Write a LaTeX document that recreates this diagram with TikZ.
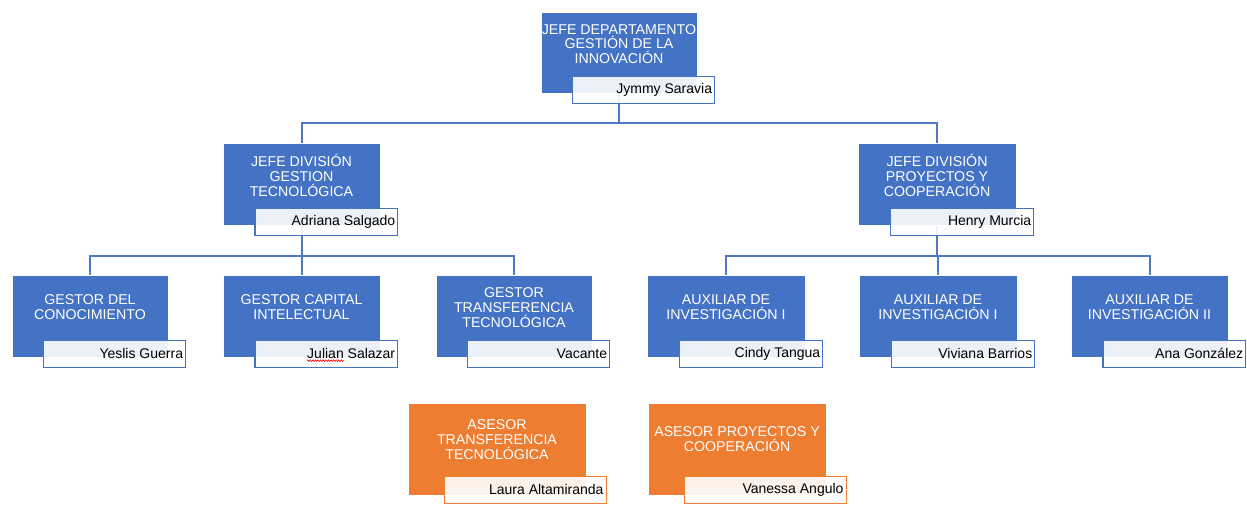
\documentclass[tikz,border=0pt]{standalone}
\usepackage{fontspec}
\setmainfont{Liberation Sans}
\usetikzlibrary{decorations.pathmorphing}

\definecolor{accblue}{HTML}{4472C4}
\definecolor{accorange}{HTML}{ED7D31}
\definecolor{linkblue}{HTML}{5079C4}

\pgfdeclarelayer{background}
\pgfsetlayers{background,main}

\tikzset{
  rolebox/.style={rectangle, draw=white, line width=0.6pt, anchor=north west, inner sep=0pt},
  namebox/.style={rectangle, fill=white, fill opacity=0.9, text opacity=1, line width=1.1pt,
                  anchor=north west, inner sep=0pt, minimum height=27pt},
  roletext/.style={text=white, align=center, inner sep=0pt,
                   font=\fontsize{14.2}{14.8}\selectfont},
  nametext/.style={anchor=east, inner sep=0pt, text=black,
                   font=\fontsize{14}{15}\selectfont},
  link/.style={draw=linkblue, line width=1.8pt},
}

% #1 name, #2 x, #3 y, #4 width, #5 height, #6 colour, #7 title, #8 person
\newcommand\orgunit[8]{%
  \pgfmathsetmacro\ox{#2+0.2*#4}%
  \pgfmathsetmacro\oy{#3+0.79*#5}%
  \pgfmathsetmacro\ow{0.91*#4}%
  \pgfmathsetmacro\tx{#2+0.5*#4}%
  \pgfmathsetmacro\ty{#3+0.395*#5}%
  \node[rolebox, fill=#6, minimum width=#4pt, minimum height=#5pt] (#1) at (#2,#3) {};
  \node[namebox, draw=#6, minimum width=\ow pt] (#1-n) at (\ox,\oy) {};
  \node[roletext] (#1-t) at (\tx,\ty) {#7};
  \node[nametext] (#1-p) at ([xshift=-3pt]#1-n.east) {#8};
}

\begin{document}
\begin{tikzpicture}[x=1pt, y=-1pt]
  \useasboundingbox (0,0) rectangle (1247,504);

  % head of department
  \orgunit{top}{541}{12}{156}{81}{accblue}{JEFE DEPARTAMENTO\\GESTIÓN DE LA\\INNOVACIÓN}{Jymmy Saravia}

  % divisions
  \orgunit{divA}{223}{143}{157}{82}{accblue}{JEFE DIVISIÓN\\GESTION\\TECNOLÓGICA}{Adriana Salgado}
  \orgunit{divB}{858}{143}{158}{82}{accblue}{JEFE DIVISIÓN\\PROYECTOS Y\\COOPERACIÓN}{Henry Murcia}

  % technology management staff
  \orgunit{g1}{12}{275}{156}{82}{accblue}{GESTOR DEL\\CONOCIMIENTO}{Yeslis Guerra}
  \orgunit{g2}{223}{275}{157}{82}{accblue}{GESTOR CAPITAL\\INTELECTUAL}{Julian Salazar}
  \orgunit{g3}{436}{275}{156}{82}{accblue}{GESTOR\\TRANSFERENCIA\\TECNOLÓGICA}{Vacante}

  % projects and cooperation staff
  \orgunit{a1}{647}{275}{158}{82}{accblue}{AUXILIAR DE\\INVESTIGACIÓN I}{Cindy Tangua}
  \orgunit{a2}{859}{275}{158}{82}{accblue}{AUXILIAR DE\\INVESTIGACIÓN I}{Viviana Barrios}
  \orgunit{a3}{1071}{275}{157}{82}{accblue}{AUXILIAR DE\\INVESTIGACIÓN II}{Ana González}

  % advisors
  \orgunit{o1}{408}{403}{178}{92}{accorange}{ASESOR\\TRANSFERENCIA\\TECNOLÓGICA}{Laura Altamiranda}
  \orgunit{o2}{648}{403}{178}{92}{accorange}{ASESOR PROYECTOS Y\\COOPERACIÓN}{Vanessa Angulo}

  % spell-check underline
  \draw[red, line width=0.6pt, decorate, decoration={zigzag, amplitude=0.8pt, segment length=2.6pt}]
    ([yshift=-1.5pt]g2-p.south west) -- ++(37,0);

  % connectors, behind the boxes
  \begin{pgfonlayer}{background}
    \draw[link] (top.south) -- ++(0,29) -| (divA.north);
    \draw[link] (top.south) -- ++(0,29) -| (divB.north);
    \draw[link] (divA.south) -- ++(0,30) -| (g1.north);
    \draw[link] (divA.south) -- ++(0,30) -| (g2.north);
    \draw[link] (divA.south) -- ++(0,30) -| (g3.north);
    \draw[link] (divB.south) -- ++(0,30) -| (a1.north);
    \draw[link] (divB.south) -- ++(0,30) -| (a2.north);
    \draw[link] (divB.south) -- ++(0,30) -| (a3.north);
  \end{pgfonlayer}
\end{tikzpicture}
\end{document}
